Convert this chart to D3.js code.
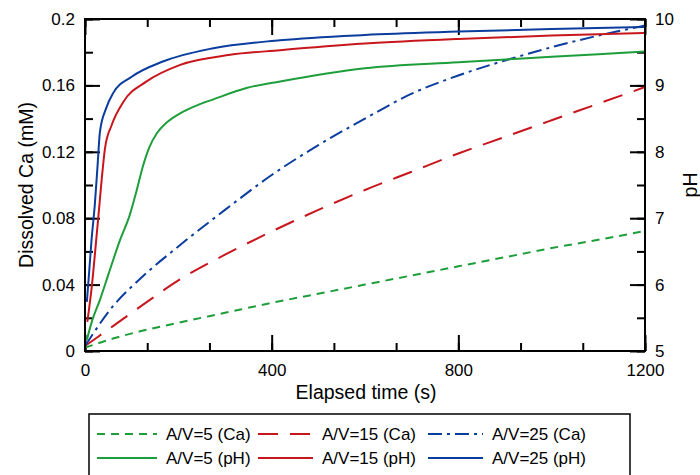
<!DOCTYPE html>
<html>
<head>
<meta charset="utf-8">
<script src="https://cdn.jsdelivr.net/npm/d3@7"></script>
<style>
    body { margin: 0; background: #fff; }
    svg { font-family: "Liberation Sans", Arial, sans-serif; }
    .axis path { display: none; }
    .axis line { stroke: #000; stroke-width: 2; }
    .axis text { font-size: 17px; fill: #000; }
</style>
</head>
<body>
<div id="chart"></div>
<script>
(() => {
    // Ca curves (left axis, mM)
    let tCa = [0, 60, 120, 200, 300, 400, 500, 600, 700, 800, 900, 1000, 1100, 1200];
    let caAV5 = [0.002, 0.0075, 0.012, 0.017, 0.023, 0.029, 0.0345, 0.040, 0.0455, 0.051, 0.0565, 0.062, 0.067, 0.0723];
    let caAV15 = [0.003, 0.015, 0.027, 0.0425, 0.058, 0.072, 0.085, 0.097, 0.108, 0.119, 0.129, 0.139, 0.149, 0.159];
    let caAV25 = [0.003, 0.027, 0.044, 0.063, 0.085, 0.106, 0.124, 0.140, 0.155, 0.166, 0.175, 0.183, 0.190, 0.196];

    // pH curves (right axis)
    let tPh5 = [4, 15, 32, 50, 75, 96, 110, 124, 138, 154, 175, 204, 240, 275, 346, 418, 600, 800, 1000, 1200];
    let phAV5 = [5.17, 5.45, 5.77, 6.15, 6.67, 7.05, 7.4, 7.78, 8.07, 8.28, 8.44, 8.58, 8.70, 8.79, 8.96, 9.06, 9.26, 9.35, 9.43, 9.51];
    let tPh15 = [5, 15, 24, 29, 36, 43, 57, 82, 132, 204, 311, 418, 600, 800, 1000, 1200];
    let phAV15 = [5.44, 6.0, 6.67, 7.05, 7.6, 8.06, 8.4, 8.75, 9.06, 9.31, 9.46, 9.53, 9.63, 9.70, 9.75, 9.79];
    let tPh25 = [4, 9, 14, 21, 27, 32, 45, 60, 100, 167, 275, 418, 600, 800, 1000, 1200];
    let phAV25 = [5.74, 6.2, 6.67, 7.2, 7.8, 8.3, 8.65, 8.88, 9.13, 9.36, 9.56, 9.68, 9.76, 9.81, 9.85, 9.88];

    let xTicks = [0, 400, 800, 1200];
    let leftTicks = [0, 0.04, 0.08, 0.12, 0.16, 0.2];
    let rightTicks = [5, 6, 7, 8, 9, 10];

    let green = "#1e9e3a";
    let red = "#c8161d";
    let blue = "#0b3d9e";

    let series = [
        {label: "A/V=5 (Ca)", t: tCa, v: caAV5, axis: "ca", color: green, dash: "8,6"},
        {label: "A/V=15 (Ca)", t: tCa, v: caAV15, axis: "ca", color: red, dash: "20,12"},
        {label: "A/V=25 (Ca)", t: tCa, v: caAV25, axis: "ca", color: blue, dash: "14,5,3,5"},
        {label: "A/V=5 (pH)", t: tPh5, v: phAV5, axis: "ph", color: green, dash: null},
        {label: "A/V=15 (pH)", t: tPh15, v: phAV15, axis: "ph", color: red, dash: null},
        {label: "A/V=25 (pH)", t: tPh25, v: phAV25, axis: "ph", color: blue, dash: null}
    ];

    let w = 700;
    let h = 475;
    let left = 85, right = 645, top = 19, bottom = 351;

    let svg = d3.select("#chart")
        .append("svg")
        .attr("width", w)
        .attr("height", h);

    let x = d3.scaleLinear().domain([0, 1200]).range([left, right]);
    let yCa = d3.scaleLinear().domain([0, 0.2]).range([bottom, top]);
    let yPh = d3.scaleLinear().domain([5, 10]).range([bottom, top]);

    let minorX = d3.range(0, 1201, 400 / 3);
    let minorCa = d3.range(0, 0.201, 0.02);
    let minorPh = d3.range(5, 10.01, 0.5);

    // bottom
    svg.append("g").attr("class", "axis")
        .attr("transform", "translate(0," + bottom + ")")
        .call(d3.axisBottom(x).tickValues(minorX).tickSize(-8).tickFormat(""));
    svg.append("g").attr("class", "axis")
        .attr("transform", "translate(0," + bottom + ")")
        .call(d3.axisBottom(x).tickValues(xTicks).tickSize(-16).tickPadding(13).tickFormat(d3.format("d")));
    // top
    svg.append("g").attr("class", "axis")
        .attr("transform", "translate(0," + top + ")")
        .call(d3.axisTop(x).tickValues(minorX).tickSize(-8).tickFormat(""));
    svg.append("g").attr("class", "axis")
        .attr("transform", "translate(0," + top + ")")
        .call(d3.axisTop(x).tickValues(xTicks).tickSize(-16).tickFormat(""));
    // left
    svg.append("g").attr("class", "axis")
        .attr("transform", "translate(" + left + ",0)")
        .call(d3.axisLeft(yCa).tickValues(minorCa).tickSize(-8).tickFormat(""));
    svg.append("g").attr("class", "axis")
        .attr("transform", "translate(" + left + ",0)")
        .call(d3.axisLeft(yCa).tickValues(leftTicks).tickSize(-15).tickPadding(10).tickFormat(d => d === 0 ? "0" : String(+d.toFixed(2))));
    // right
    svg.append("g").attr("class", "axis")
        .attr("transform", "translate(" + right + ",0)")
        .call(d3.axisRight(yPh).tickValues(minorPh).tickSize(-8).tickFormat(""));
    svg.append("g").attr("class", "axis")
        .attr("transform", "translate(" + right + ",0)")
        .call(d3.axisRight(yPh).tickValues(rightTicks).tickSize(-15).tickPadding(10).tickFormat(d3.format("d")));

    let plot = svg.append("g");

    series.forEach(s => {
        let yScale = s.axis === "ca" ? yCa : yPh;
        let line = d3.line()
            .x((d, i) => x(s.t[i]))
            .y(d => yScale(d))
            .curve(d3.curveMonotoneX);
        plot.append("path")
            .attr("d", line(s.v))
            .attr("fill", "none")
            .attr("stroke", s.color)
            .attr("stroke-width", 2)
            .attr("stroke-dasharray", s.dash);
    });

    // frame
    svg.append("rect")
        .attr("x", left).attr("y", top)
        .attr("width", right - left).attr("height", bottom - top)
        .attr("fill", "none").attr("stroke", "#000").attr("stroke-width", 2);

    // axis titles
    svg.append("text")
        .attr("x", 366).attr("y", 399)
        .attr("text-anchor", "middle").attr("font-size", 19.5)
        .text("Elapsed time (s)");
    svg.append("text")
        .attr("transform", "translate(33," + ((top + bottom) / 2) + ") rotate(-90)")
        .attr("text-anchor", "middle").attr("font-size", 19.5)
        .text("Dissolved Ca (mM)");
    svg.append("text")
        .attr("transform", "translate(697," + ((top + bottom) / 2) + ") rotate(-90)")
        .attr("text-anchor", "middle").attr("font-size", 19.5)
        .text("pH");

    // legend
    let legend = svg.append("g");
    legend.append("rect")
        .attr("x", 89).attr("y", 414)
        .attr("width", 541).attr("height", 70)
        .attr("fill", "#fff").attr("stroke", "#000").attr("stroke-width", 1.5);

    let colX = [97, 258, 428];
    let colLen = [60, 55, 55];
    let rowY = [434, 458];
    series.forEach((s, i) => {
        let c = i % 3;
        let cx = colX[c];
        let cy = rowY[Math.floor(i / 3)];
        legend.append("line")
            .attr("x1", cx).attr("x2", cx + colLen[c])
            .attr("y1", cy).attr("y2", cy)
            .attr("stroke", s.color).attr("stroke-width", 2)
            .attr("stroke-dasharray", s.dash);
        legend.append("text")
            .attr("x", cx + colLen[c] + 9).attr("y", cy)
            .attr("dy", "0.36em").attr("font-size", 17)
            .text(s.label);
    });
})();
</script>
</body>
</html>
